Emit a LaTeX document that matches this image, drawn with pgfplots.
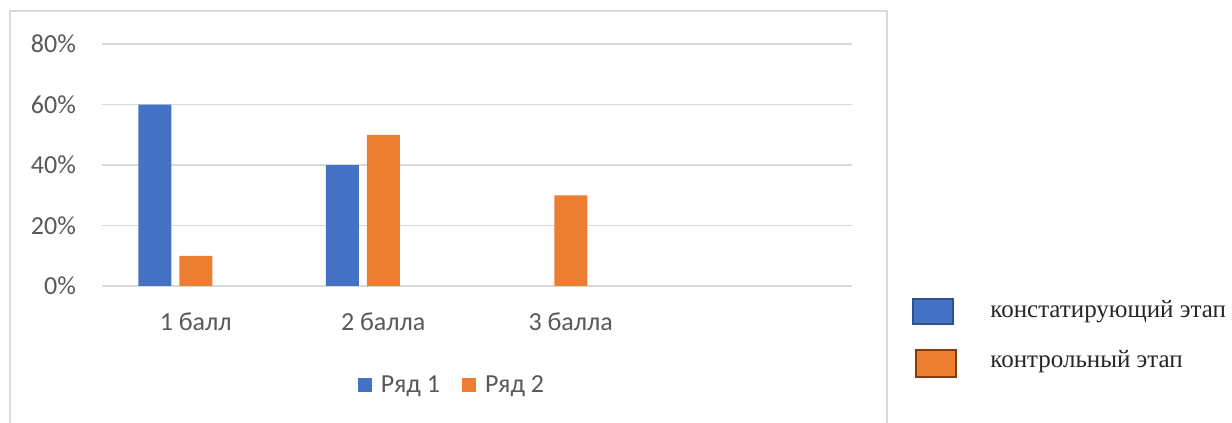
\documentclass[border=0pt]{standalone}
\usepackage{fontspec}
\setmainfont{Carlito}
\newfontfamily\seriffont{Liberation Serif}
\usepackage{pgfplots}
\pgfplotsset{compat=1.18}
\definecolor{cblue}{HTML}{4472C4}
\definecolor{corange}{HTML}{ED7D31}
\definecolor{cgrid}{HTML}{D9D9D9}
\definecolor{ctext}{HTML}{595959}
\definecolor{cblueb}{HTML}{2F528F}
\definecolor{corangeb}{HTML}{843C0C}
\begin{document}
\begin{tikzpicture}[x=0.5pt,y=0.5pt]
\path[use as bounding box] (0,0) rectangle (1232,423);
\fill[white] (0,0) rectangle (1232,423);
\draw[cgrid, line width=0.6pt] (10,0) -- (10,412) -- (887,412) -- (887,0);
\begin{axis}[
  at={(51pt,68.5pt)}, anchor=south west,
  scale only axis, width=375pt, height=121pt,
  xmin=-0.5, xmax=3.5, ymin=0, ymax=80,
  ybar, bar width=16.5pt,
  axis line style={draw=none}, major tick length=0pt,
  xtick={0,1,2}, xticklabels={1 балл, 2 балла, 3 балла},
  ytick={0,20,40,60,80}, yticklabel={\pgfmathprintnumber{\tick}\%},
  ymajorgrids, grid style={cgrid, line width=0.6pt},
  tick label style={font=\fontsize{13}{15}\selectfont, text=ctext},
  /pgf/number format/assume math mode=true,
  xticklabel style={anchor=base, yshift=-22pt},
  yticklabel style={anchor=east, xshift=-9.5pt},
  legend style={at={(0.468,-0.41)}, anchor=center, draw=none, fill=none,
    font=\fontsize{13}{15}\selectfont, text=ctext, legend columns=2,
    /tikz/every even column/.append style={column sep=9pt}},
  legend image code/.code={\fill[#1,/tikz/.cd] (0pt,-3.4pt) rectangle (7pt,3.4pt); \path (7pt,0pt) -- (9.5pt,0pt);},
]
\addplot[fill=cblue, draw=none, bar shift=-20.5pt] coordinates {(0,60) (1,40)};
\addplot[fill=corange, draw=none, bar shift=0pt] coordinates {(0,10) (1,50) (2,30)};
\legend{Ряд 1, Ряд 2}
\end{axis}
\draw[cblueb, fill=cblue, line width=1pt] (913,99) rectangle (953,124);
\draw[corangeb, fill=corange, line width=1pt] (916,46) rectangle (956,73);
\node[anchor=base west, inner sep=0pt, font=\seriffont\fontsize{12.5}{14}\selectfont, text=black!85] at (990,105.5) {констатирующий этап};
\node[anchor=base west, inner sep=0pt, font=\seriffont\fontsize{12.5}{14}\selectfont, text=black!85] at (990,55.5) {контрольный этап};
\end{tikzpicture}
\end{document}
